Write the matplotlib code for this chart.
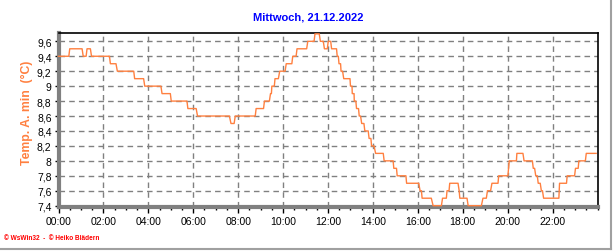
import matplotlib
matplotlib.use("Agg")
import matplotlib.pyplot as plt
from matplotlib.ticker import MultipleLocator, FuncFormatter
from matplotlib.lines import Line2D

plt.rcParams['font.family'] = ['Liberation Sans', 'DejaVu Sans']

# time of day in hours, temperature in °C (vertices of the recorded trace)
hours = [0.00, 0.46, 0.50, 1.05, 1.10, 1.23, 1.27, 1.42, 1.47, 2.27, 2.31, 2.56, 2.62, 3.35,
         3.39, 3.79, 3.84, 4.56, 4.61, 4.98, 5.02, 5.72, 5.76, 6.13, 6.19, 7.61, 7.68, 7.82,
         7.87, 8.76, 8.80, 9.13, 9.17, 9.39, 9.44, 9.48, 9.50, 9.61, 9.64, 9.79, 9.85, 10.09,
         10.14, 10.39, 10.43, 10.58, 10.62, 11.05, 11.10, 11.38, 11.42, 11.61, 11.66, 11.79,
         11.84, 11.97, 12.01, 12.12, 12.16, 12.38, 12.41, 12.46, 12.49, 12.56, 12.58, 12.65,
         12.70, 12.98, 13.00, 13.07, 13.08, 13.16, 13.17, 13.24, 13.27, 13.36, 13.39, 13.45,
         13.50, 13.60, 13.64, 13.79, 13.83, 13.91, 13.94, 14.05, 14.12, 14.46, 14.50, 14.90,
         14.93, 15.05, 15.08, 15.47, 15.50, 16.04, 16.10, 16.16, 16.19, 16.60, 16.68, 17.05,
         17.10, 17.27, 17.30, 17.39, 17.42, 17.79, 17.84, 17.87, 18.19, 18.24, 18.83, 18.90,
         19.05, 19.10, 19.24, 19.30, 19.57, 19.60, 20.01, 20.07, 20.39, 20.41, 20.68, 20.73,
         21.10, 21.14, 21.20, 21.25, 21.32, 21.36, 21.45, 21.50, 21.55, 21.60, 22.28, 22.31,
         22.62, 22.65, 22.98, 23.02, 23.14, 23.17, 23.46, 23.50, 23.94]
temps = [9.4, 9.4, 9.5, 9.5, 9.4, 9.4, 9.5, 9.5, 9.4, 9.4, 9.3, 9.3, 9.2, 9.2,
         9.1, 9.1, 9.0, 9.0, 8.9, 8.9, 8.8, 8.8, 8.7, 8.7, 8.6, 8.6, 8.5, 8.5,
         8.6, 8.6, 8.7, 8.7, 8.8, 8.8, 8.9, 8.9, 9.0, 9.0, 9.1, 9.1, 9.2, 9.2,
         9.3, 9.3, 9.4, 9.4, 9.5, 9.5, 9.6, 9.6, 9.7, 9.7, 9.6, 9.6,
         9.5, 9.5, 9.6, 9.6, 9.5, 9.5, 9.4, 9.4, 9.3, 9.3, 9.2, 9.2,
         9.1, 9.1, 9.0, 9.0, 8.9, 8.9, 8.8, 8.8, 8.7, 8.7, 8.6, 8.6,
         8.5, 8.5, 8.4, 8.4, 8.3, 8.3, 8.2, 8.2, 8.1, 8.1, 8.0, 8.0,
         7.9, 7.9, 7.8, 7.8, 7.7, 7.7, 7.6, 7.6, 7.5, 7.5, 7.4, 7.4,
         7.5, 7.5, 7.6, 7.6, 7.7, 7.7, 7.6, 7.5, 7.5, 7.4, 7.4, 7.5,
         7.5, 7.6, 7.6, 7.7, 7.7, 7.8, 7.8, 8.0, 8.0, 8.1, 8.1, 8.0,
         8.0, 7.9, 7.9, 7.8, 7.8, 7.7, 7.7, 7.6, 7.6, 7.5, 7.5, 7.7,
         7.7, 7.8, 7.8, 7.9, 7.9, 8.0, 8.0, 8.1, 8.1]

x_ticks = [0, 2, 4, 6, 8, 10, 12, 14, 16, 18, 20, 22]
x_labels = ["00:00", "02:00", "04:00", "06:00", "08:00", "10:00",
            "12:00", "14:00", "16:00", "18:00", "20:00", "22:00"]
y_ticks = [7.4, 7.6, 7.8, 8.0, 8.2, 8.4, 8.6, 8.8, 9.0, 9.2, 9.4, 9.6]

title = "Mittwoch, 21.12.2022"
ylabel = "Temp. A. min  (°C)"
credit = "© WsWin32  -  © Heiko Blädern"

W, H = 616, 253
fig = plt.figure(figsize=(W / 100, H / 100), dpi=100)
left, right, top, bottom = 58.5, 597.5, 33.5, 207.5
ax = fig.add_axes([left / W, 1 - bottom / H, (right - left) / W, (bottom - top) / H])

ax.plot(hours, temps, color='#ff8040', lw=1.0, zorder=5, clip_on=False)

ax.set_xlim(0, 24)
ax.set_ylim(7.389, 9.718)

ax.set_xticks(x_ticks)
ax.set_xticklabels(x_labels)
ax.xaxis.set_minor_locator(MultipleLocator(0.5))
ax.set_yticks(y_ticks)
ax.yaxis.set_major_formatter(FuncFormatter(
    lambda v, p: (f"{v:.1f}".rstrip('0').rstrip('.')).replace('.', ',')))

ax.tick_params(axis='both', which='major', labelsize=7.5, colors='#000000', width=1, length=4)
ax.tick_params(axis='x', which='minor', length=2.5, width=1, color='#000000')
ax.tick_params(axis='y', which='major', length=3, pad=2)
ax.tick_params(axis='x', which='major', pad=3)

ax.grid(True, which='major', color='#808080', linestyle=(0, (4, 3)), linewidth=1)
ax.set_axisbelow(True)

for s in ['left', 'bottom']:
    ax.spines[s].set_color('#808080')
    ax.spines[s].set_linewidth(3)
for s in ['top', 'right']:
    ax.spines[s].set_color('#000000')
    ax.spines[s].set_linewidth(1.2)

fig.text(308 / W, 1 - 17 / H, title, ha='center', va='center', color='#0000ff',
         fontsize=8, fontweight='bold')
fig.text(27 / W, 1 - 113 / H, ylabel, ha='center', va='center', rotation=90,
         color='#ff8040', fontsize=8.8, fontweight='bold')
fig.text(4 / W, 1 - 239 / H, credit, ha='left', va='center', color='#ff0000',
         fontsize=4.7, fontweight='bold')

# outer frame shadow lines (right and bottom)
fig.add_artist(Line2D([611 / W, 611 / W], [1 - 250 / H, 1.0], color='#a0a0a0', lw=1.5))
fig.add_artist(Line2D([0, 611 / W], [1 - 250 / H, 1 - 250 / H], color='#a0a0a0', lw=1.5))

fig.savefig("out.png", dpi=100, facecolor='white')
